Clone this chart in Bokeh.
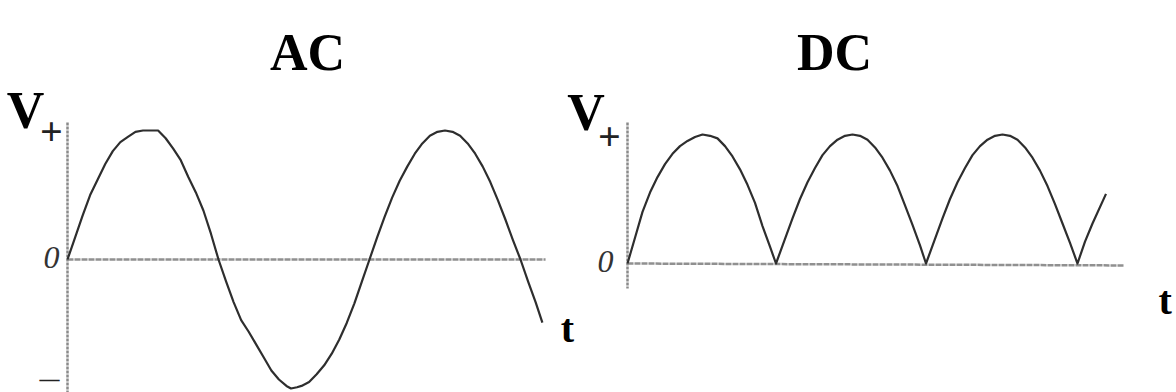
from bokeh.plotting import figure
from bokeh.models import Range1d
from bokeh.core.properties import value
from bokeh.embed import file_html
from bokeh.resources import INLINE

# ---- data (time in half-periods, voltage in peak units) ----
ac_t = [0.00, 0.05, 0.10, 0.15, 0.20, 0.25, 0.30, 0.35, 0.40, 0.45, 0.50, 0.55, 0.60,
        0.65, 0.70, 0.75, 0.80, 0.85, 0.90, 0.95, 1.00,
        1.05, 1.10, 1.15, 1.20, 1.25, 1.30, 1.35, 1.40, 1.45, 1.48, 1.52, 1.55, 1.60,
        1.65, 1.70, 1.75, 1.80, 1.85, 1.90, 1.95, 2.00,
        2.05, 2.10, 2.15, 2.20, 2.25, 2.30, 2.35, 2.40, 2.45, 2.50, 2.55, 2.60,
        2.65, 2.70, 2.75, 2.80, 2.85, 2.90, 2.95, 3.00, 3.05, 3.10, 3.145]
ac_v = [0.00, 0.17, 0.34, 0.50, 0.62, 0.74, 0.84, 0.91, 0.95, 0.99, 1.00, 1.00, 1.00,
        0.94, 0.86, 0.77, 0.64, 0.52, 0.38, 0.20, 0.00,
        -0.17, -0.33, -0.47, -0.56, -0.66, -0.76, -0.86, -0.93, -0.98, -1.00, -0.99, -0.98, -0.95,
        -0.89, -0.82, -0.73, -0.62, -0.49, -0.34, -0.17, 0.00,
        0.17, 0.33, 0.48, 0.61, 0.72, 0.82, 0.90, 0.96, 0.99, 1.00, 0.99, 0.96,
        0.90, 0.82, 0.72, 0.60, 0.46, 0.31, 0.15, 0.00, -0.17, -0.33, -0.49]

dc_t = [0.00, 0.05, 0.10, 0.15, 0.20, 0.25, 0.30, 0.35, 0.40, 0.45, 0.50, 0.55, 0.60,
        0.65, 0.70, 0.75, 0.80, 0.85, 0.90, 0.95, 0.99,
        1.05, 1.10, 1.15, 1.20, 1.25, 1.30, 1.35, 1.40, 1.45, 1.50, 1.55, 1.60,
        1.65, 1.70, 1.75, 1.80, 1.85, 1.90, 1.95, 1.99,
        2.05, 2.10, 2.15, 2.20, 2.25, 2.30, 2.35, 2.40, 2.45, 2.50, 2.55, 2.60,
        2.65, 2.70, 2.75, 2.80, 2.85, 2.90, 2.95, 3.00, 3.05, 3.10, 3.19]
dc_v = [0.00, 0.20, 0.40, 0.55, 0.67, 0.77, 0.85, 0.91, 0.95, 0.98, 1.00, 0.99, 0.97,
        0.91, 0.83, 0.73, 0.61, 0.47, 0.29, 0.13, 0.00,
        0.19, 0.35, 0.50, 0.63, 0.74, 0.84, 0.91, 0.96, 0.99, 1.00, 0.99, 0.96,
        0.90, 0.82, 0.72, 0.60, 0.45, 0.30, 0.14, 0.00,
        0.19, 0.35, 0.50, 0.63, 0.74, 0.84, 0.91, 0.96, 0.99, 1.00, 0.99, 0.96,
        0.90, 0.82, 0.72, 0.60, 0.46, 0.31, 0.16, 0.00, 0.17, 0.31, 0.54]

titles = ["AC", "DC"]
y_label = "V"
x_label = "t"
ac_tick_values = [1, 0, -1]
ac_tick_labels = ["+", "0", "\u2014"]
dc_tick_values = [1, 0]
dc_tick_labels = ["+", "0"]

# ---- figure ----
W, H = 1176, 392
p = figure(width=W, height=H, output_backend="svg", toolbar_location=None,
           x_range=Range1d(-0.4437, 7.3444), y_range=Range1d(-1.031, 2.0078),
           x_axis_location=None, y_axis_location=None, min_border=0,
           outline_line_color=None, background_fill_color="white",
           border_fill_color="white")
p.grid.visible = False
p.extra_x_ranges = {"dc": Range1d(-4.18, 3.66)}
p.extra_y_ranges = {"dc": Range1d(-1.0, 2.0388)}

curve_color = "#2e2e2e"
axis_color = "#8a8a8a"
zero_color = "#909090"
serif = value("Liberation Serif")
DC = dict(x_range_name="dc", y_range_name="dc")

# AC panel axes
p.segment(x0=[0], y0=[1.062], x1=[0], y1=[-1.04], line_color=axis_color,
          line_width=2.5, line_dash="3 1")
p.segment(x0=[0], y0=[0], x1=[3.166], y1=[0], line_color=zero_color,
          line_width=2.5, line_dash="6 1")
p.line(ac_t, ac_v, line_color=curve_color, line_width=2.2, line_join="round")

# DC panel axes
p.segment(x0=[0], y0=[1.093], x1=[0], y1=[-0.194], line_color=axis_color,
          line_width=2.5, line_dash="3 1", **DC)
p.segment(x0=[0], y0=[0], x1=[3.307], y1=[-0.015], line_color=zero_color,
          line_width=2.5, line_dash="6 1", **DC)
p.line(dc_t, dc_v, line_color=curve_color, line_width=2.2, line_join="round", **DC)

big = dict(text_font=serif, text_font_style="bold", text_align="center",
           text_baseline="alphabetic", text_color="black")

# titles
p.text(x=[1.589], y=[1.605], text=[titles[0]], text_font_size="52px", **big)
p.text(x=[1.38], y=[1.636], text=[titles[1]], text_font_size="52px", **big, **DC)

# V labels
p.text(x=[-0.278], y=[1.155], text=[y_label], text_font_size="52px", **big)
p.text(x=[-0.277], y=[1.171], text=[y_label], text_font_size="52px", **big, **DC)

# t labels
p.text(x=[3.311], y=[-0.535], text=[x_label], text_font_size="40px", **big)
p.text(x=[3.585], y=[-0.287], text=[x_label], text_font_size="40px", **big, **DC)

# tick labels
sym = dict(text_font=serif, text_font_style="bold", text_align="center",
           text_baseline="middle", text_color="#222222")
zero = dict(text_font=serif, text_font_style="italic", text_align="center",
            text_baseline="middle", text_color="#333333")
p.text(x=[-0.106], y=[0.992], text=[ac_tick_labels[0]], text_font_size="40px", **sym)
p.text(x=[-0.12], y=[-0.93], text=[ac_tick_labels[2]], text_font_size="20px", **sym)
p.text(x=[-0.106], y=[0.016], text=[ac_tick_labels[1]], text_font_size="32px", **zero)
p.text(x=[-0.12], y=[0.984], text=[dc_tick_labels[0]], text_font_size="40px", **sym, **DC)
p.text(x=[-0.147], y=[0.0155], text=[dc_tick_labels[1]], text_font_size="32px", **zero, **DC)

open("out.html", "w").write(file_html(p, INLINE))
